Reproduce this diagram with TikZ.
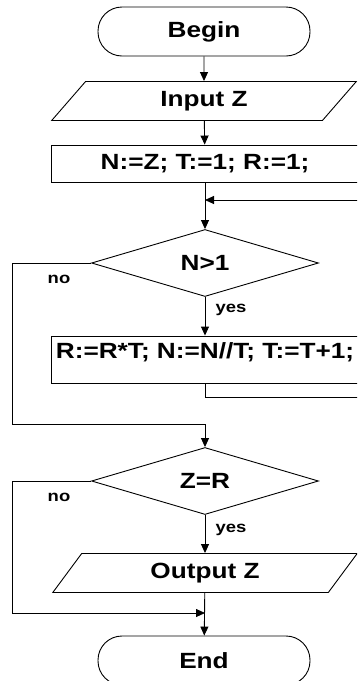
\documentclass[tikz,border=0pt]{standalone}
\usepackage{fontspec}
\setmainfont{Liberation Sans}[FakeStretch=1.19]
\usetikzlibrary{shapes.geometric,arrows.meta}

\begin{document}
\begin{tikzpicture}[x=1pt,y=-1pt,line width=0.9pt,
  every node/.style={font=\fontsize{22}{26}\selectfont\bfseries},
  term/.style={draw,rectangle,rounded corners=24pt,minimum width=212pt,minimum height=49pt},
  io/.style={draw,trapezium,trapezium left angle=63,trapezium right angle=117,
    trapezium stretches=true,minimum width=305pt,minimum height=39pt},
  proc/.style={draw,rectangle,minimum width=308pt},
  test/.style={draw,diamond,aspect=3.4,inner sep=0pt,minimum width=227pt,minimum height=67pt},
  lab/.style={font=\fontsize{15.5}{18}\selectfont\bfseries},
  flow/.style={-{Triangle[length=9pt,width=8pt]}}]
\useasboundingbox (0,0) rectangle (357,681);
\clip (0,0) rectangle (357,681);
\node[term] (start) at (204,31.5) {Begin};
\node[io] (inz) at (204,101) {Input Z};
\node[proc,minimum height=37pt] (init) at (205,163.5) {N:=Z; T:=1; R:=1;};
\node[test] (cond1) at (205,263) {N>1};
\node[proc,minimum height=47pt,text depth=18pt] (body) at (205,359.5) {R:=R*T; N:=N//T; T:=T+1;};
\node[test] (cond2) at (205,481) {Z=R};
\node[io] (outz) at (205,573) {Output Z};
\node[term] (stop) at (204,660.5) {End};
\node[lab] (no1) at (59,279) {no};
\node[lab] (yes1) at (231,310) {yes};
\node[lab] (no2) at (59,497) {no};
\node[lab] (yes2) at (231,530) {yes};
\coordinate (merge) at (205,200);
\coordinate (loop) at (370,397);
\coordinate (bypass1) at (12,424);
\coordinate (join1) at (205,424);
\coordinate (bypass2) at (12,613);
\coordinate (join2) at (205,613);
\draw[flow] (start) -- (inz);
\draw[flow] (inz) -- (init);
\draw[flow] (init) -- (cond1);
\draw[flow] (cond1) -- (body);
\draw[flow] (body.south) |- (loop) |- (merge);
\draw (cond1.west) -| (bypass1) -- (join1);
\draw[flow] (join1) -- (cond2);
\draw[flow] (cond2) -- (outz);
\draw[flow] (cond2.west) -| (bypass2) -- (join2);
\draw[flow] (outz) -- (stop);
\end{tikzpicture}
\end{document}
